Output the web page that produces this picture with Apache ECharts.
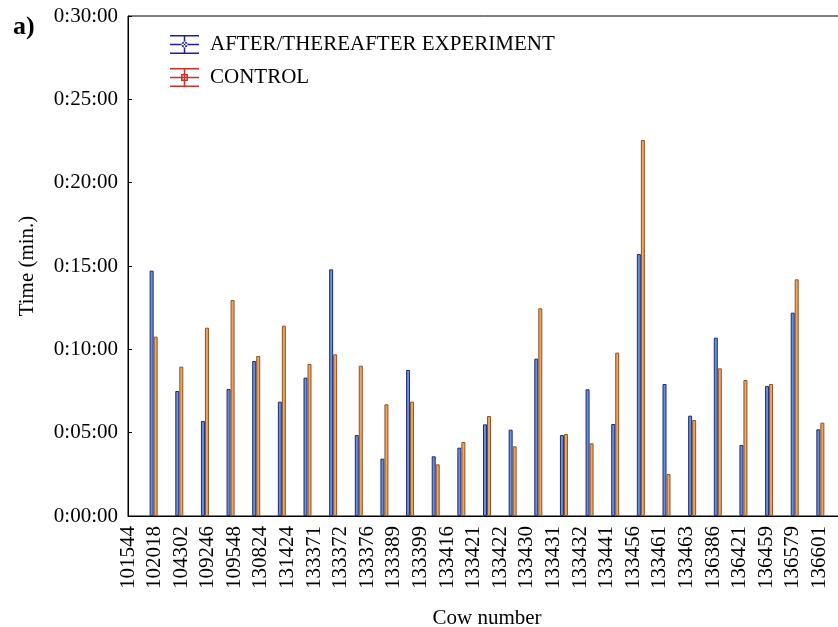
<!DOCTYPE html>
<html><head><meta charset="utf-8">
<script src="https://cdn.jsdelivr.net/npm/echarts@6/dist/echarts.min.js"></script>
<style>html,body{margin:0;padding:0;background:#fff}#c{width:838px;height:627px}</style>
</head><body><div id="c"></div>
<script>
// Cow numbers (x-axis tick labels)
const cows = ['101544','102018','104302','109246','109548','130824','131424','133371','133372','133376','133389','133399','133416','133421','133422','133430','133431','133432','133441','133456','133461','133463','136386','136421','136459','136579','136601'];
// Times in minutes
const afterExperiment = [14.72,7.50,5.70,7.62,9.30,6.86,8.30,14.80,4.86,3.44,8.76,3.58,4.10,5.50,5.18,9.44,4.86,7.60,5.52,15.72,7.92,6.02,10.70,4.26,7.80,12.20,5.20];
const control = [10.76,8.96,11.30,12.96,9.60,11.42,9.12,9.70,9.02,6.70,6.86,3.10,4.44,6.00,4.18,12.46,4.92,4.36,9.80,22.56,2.52,5.76,8.86,8.16,7.92,14.20,5.60];
const yTicks = [0,5,10,15,20,25,30];
const seriesNames = ['AFTER/THEREAFTER EXPERIMENT','CONTROL'];

const FONT = 'Liberation Serif';
const FS = 21;
const pad = n => (n < 10 ? '0' : '') + n;
const labelCats = cows.concat(['']);
const barCats = [''].concat(cows, ['']);
const blueIcon = 'path://M0,0H29V1.5H0Z M0,17.5H29V19H0Z M0,8.75H29V10.25H0Z M13.75,0H15.25V19H13.75Z M11.5,9.5A3,3 0 1,0 17.5,9.5A3,3 0 1,0 11.5,9.5Z';
const redIcon = 'path://M0,0H29V1.5H0Z M0,17.5H29V19H0Z M0,8.75H29V10.25H0Z M13.75,0H15.25V19H13.75Z M11,6H18V13H11Z M12.5,7.5V11.5H16.5V7.5Z';

const chart = echarts.init(document.getElementById('c'), null, {renderer: 'canvas'});
chart.setOption({
  animation: false,
  backgroundColor: '#fff',
  textStyle: {fontFamily: FONT, color: '#000'},
  graphic: [{type: 'text', left: 13, top: 14, style: {text: 'a)', fontFamily: FONT, fontSize: 26, fontWeight: 'bold', fill: '#000'}}],
  legend: {
    orient: 'vertical', left: 165, top: 29, itemGap: 12, itemWidth: 29, itemHeight: 19,
    textStyle: {fontFamily: FONT, fontSize: FS, color: '#000', padding: [0,0,0,6]},
    data: [
      {name: seriesNames[0], icon: blueIcon, itemStyle: {color: '#1e1ea0', borderWidth: 0}},
      {name: seriesNames[1], icon: redIcon, itemStyle: {color: '#c8322a', borderWidth: 0}}
    ]
  },
  grid: {left: 128, top: 16, bottom: 111, right: -8, show: true, borderColor: '#000', borderWidth: 1, containLabel: false, outerBoundsMode: 'none'},
  xAxis: [
    {type: 'category', data: labelCats, boundaryGap: false, position: 'bottom',
     axisLine: {lineStyle: {color: '#000', width: 1}}, axisTick: {show: false},
     axisLabel: {rotate: 90, interval: 0, fontFamily: FONT, fontSize: FS, color: '#000', margin: 10},
     name: 'Cow number', nameLocation: 'middle', nameGap: 92,
     nameTextStyle: {fontFamily: FONT, fontSize: FS, color: '#000'}},
    {type: 'category', data: barCats, boundaryGap: false, position: 'bottom', show: false}
  ],
  yAxis: {
    type: 'value', min: yTicks[0], max: yTicks[yTicks.length-1], interval: 5,
    axisLine: {show: true, lineStyle: {color: '#000'}},
    axisTick: {show: true, inside: true, length: 4, lineStyle: {color: '#000'}},
    splitLine: {show: false},
    axisLabel: {fontFamily: FONT, fontSize: FS, color: '#000', margin: 10, formatter: v => '0:' + pad(v) + ':00'},
    name: 'Time (min.)', nameLocation: 'middle', nameRotate: 90, nameGap: 90,
    nameTextStyle: {fontFamily: FONT, fontSize: FS, color: '#000'}
  },
  series: [
    {name: seriesNames[0], type: 'bar', xAxisIndex: 1, barWidth: 4, barGap: '0%',
     data: [null].concat(afterExperiment, [null]),
     itemStyle: {color: '#6690d8', borderColor: '#1f2a78', borderWidth: 1}},
    {name: seriesNames[1], type: 'bar', xAxisIndex: 1, barWidth: 4, barGap: '0%',
     data: [null].concat(control, [null]),
     itemStyle: {color: '#eaa664', borderColor: '#8e5220', borderWidth: 1}}
  ]
});
</script></body></html>
